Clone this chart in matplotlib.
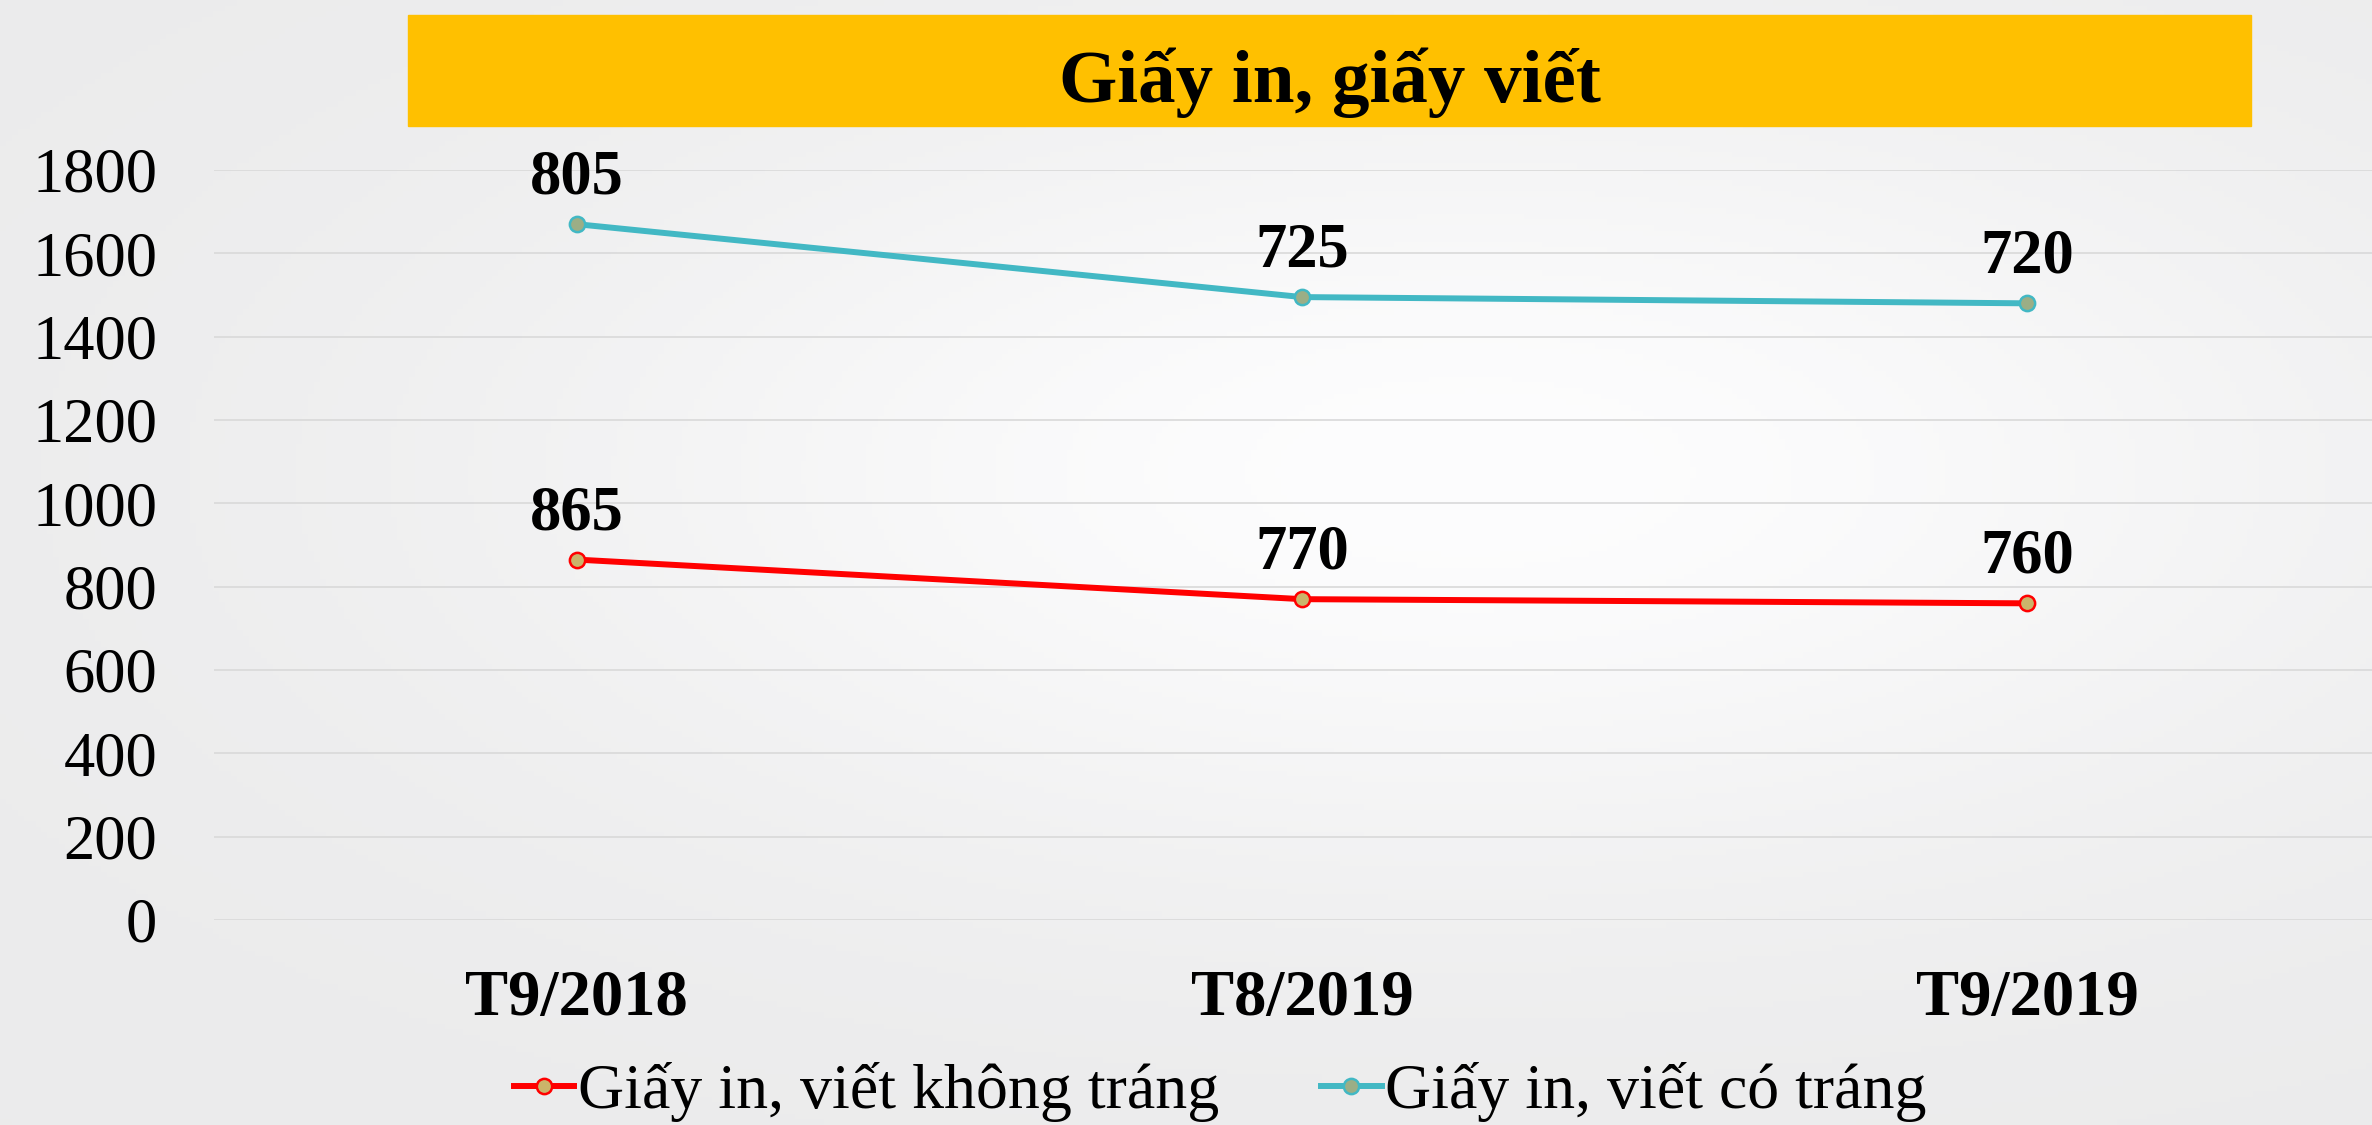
import numpy as np
import matplotlib
matplotlib.use("Agg")
import matplotlib.pyplot as plt
from matplotlib.patches import Rectangle

# chart data
categories = ["T9/2018", "T8/2019", "T9/2019"]
uncoated = [865, 770, 760]   # Giấy in, viết không tráng
coated = [805, 725, 720]     # Giấy in, viết có tráng (stacked on top)
series_names = ["Giấy in, viết không tráng", "Giấy in, viết có tráng"]
title = "Giấy in, giấy viết"
yticks = [0, 200, 400, 600, 800, 1000, 1200, 1400, 1600, 1800]

plt.rcParams['font.family'] = ['Liberation Serif', 'DejaVu Serif']

W, H = 2372, 1125
fig = plt.figure(figsize=(W / 100, H / 100), dpi=100)
fig.patch.set_facecolor("#EFEFF0")

# soft blurred backdrop like the screenshot
bg = fig.add_axes([0, 0, 1, 1], zorder=-10)
bg.axis("off")
yy, xx = np.mgrid[0:1:200j, 0:1:400j]
light = np.exp(-(((xx - 0.62) / 0.40) ** 2 + ((yy - 0.42) / 0.36) ** 2))
shade = 0.925 + 0.07 * light
bg.imshow(np.dstack([shade * 0.997, shade * 0.997, shade]).clip(0, 1),
          aspect="auto", extent=[0, 1, 0, 1], origin="upper")

ax = fig.add_axes([214 / W, 1 - 920 / H, 1 - 214 / W, (920 - 170) / H])
ax.patch.set_alpha(0)

x = np.arange(len(categories))
top = np.array(uncoated) + np.array(coated)

red = "#FF0000"
teal = "#42B8C4"
ax.plot(x, uncoated, color=red, lw=4.3, marker="o", ms=11,
        mfc="#CBB46A", mec=red, mew=1.8, label=series_names[0], zorder=3)
ax.plot(x, top, color=teal, lw=4.3, marker="o", ms=11,
        mfc="#9BAE86", mec=teal, mew=1.8, label=series_names[1], zorder=3)

for xi, yv, lab in zip(x, uncoated, uncoated):
    ax.annotate(str(lab), (xi, yv), xytext=(0, 22), textcoords="offset points",
                ha="center", va="baseline", fontsize=45, fontweight="bold")
for xi, yv, lab in zip(x, top, coated):
    ax.annotate(str(lab), (xi, yv), xytext=(0, 22), textcoords="offset points",
                ha="center", va="baseline", fontsize=45, fontweight="bold")

ax.set_xlim(-0.5, 2.475)
ax.set_ylim(0, 1800)
ax.set_yticks(yticks)
ax.set_yticklabels([str(t) for t in yticks], fontsize=45)
ax.set_xticks(x)
ax.set_xticklabels(categories, fontsize=46.5, fontweight="bold")
ax.tick_params(axis="y", length=0, pad=41)
ax.tick_params(axis="x", length=0, pad=35)
ax.grid(axis="y", color="#D9D9D9", lw=1.2)
ax.set_axisbelow(True)
for s in ax.spines.values():
    s.set_visible(False)

# title banner
fig.patches.append(Rectangle((408 / W, 1 - 126 / H), (2251 - 408) / W, 111 / H,
                             transform=fig.transFigure, color="#FFC000", zorder=1))
fig.text(1330 / W, 1 - 102 / H, title, ha="center", va="baseline",
         fontsize=54, fontweight="bold", zorder=2)

fig.legend(loc="center", bbox_to_anchor=(1220 / W, 1 - 1092 / H), ncol=2,
           frameon=False, fontsize=46, handlelength=0.95, handletextpad=0.05,
           columnspacing=1.6, borderpad=0)

fig.savefig("out.png", dpi=100, facecolor=fig.get_facecolor())
